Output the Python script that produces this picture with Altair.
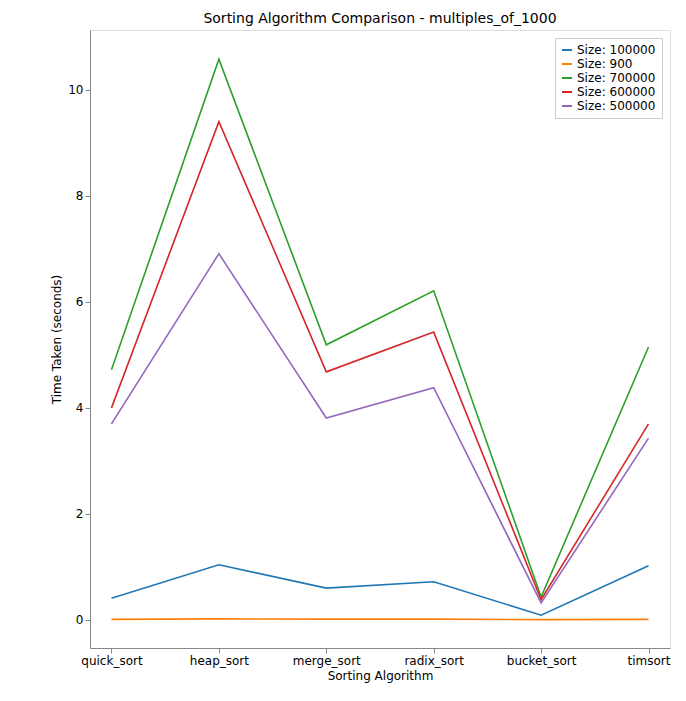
import altair as alt
import pandas as pd

algorithms = ["quick_sort", "heap_sort", "merge_sort", "radix_sort", "bucket_sort", "timsort"]
sizes = ["Size: 100000", "Size: 900", "Size: 700000", "Size: 600000", "Size: 500000"]
times = {
    "Size: 100000": [0.41, 1.04, 0.60, 0.72, 0.09, 1.02],
    "Size: 900": [0.01, 0.02, 0.015, 0.015, 0.005, 0.01],
    "Size: 700000": [4.72, 10.58, 5.19, 6.21, 0.43, 5.15],
    "Size: 600000": [4.00, 9.40, 4.68, 5.43, 0.38, 3.70],
    "Size: 500000": [3.70, 6.91, 3.81, 4.38, 0.32, 3.43],
}
colors = ["#1f77b4", "#ff7f0e", "#2ca02c", "#d62728", "#9467bd"]

rows = []
for s in sizes:
    for a, t in zip(algorithms, times[s]):
        rows.append({"algorithm": a, "size": s, "time": t})
df = pd.DataFrame(rows)

chart = alt.Chart(df).mark_line(strokeWidth=1.6).encode(
    x=alt.X("algorithm:N", sort=algorithms, title="Sorting Algorithm",
            scale=alt.Scale(type="point", padding=0.2),
            axis=alt.Axis(labelAngle=0, grid=False, labelFontSize=12, titleFontSize=12,
                          labelColor="black", titleColor="black", titleFontWeight="normal")),
    y=alt.Y("time:Q", title="Time Taken (seconds)",
            scale=alt.Scale(domain=[-0.53, 11.13], nice=False, zero=False),
            axis=alt.Axis(values=[0, 2, 4, 6, 8, 10], grid=False, labelFontSize=12, titleFontSize=12,
                          labelColor="black", titleColor="black", titleFontWeight="normal")),
    color=alt.Color("size:N", sort=sizes, scale=alt.Scale(domain=sizes, range=colors),
                    legend=alt.Legend(title=None, orient="top-right", symbolType="stroke",
                                      labelFontSize=12, strokeColor="#cccccc", padding=6,
                                      fillColor="white", symbolStrokeWidth=2, offset=8)),
).properties(
    width=580, height=618,
    title=alt.Title("Sorting Algorithm Comparison - multiples_of_1000", fontSize=14, fontWeight="normal"),
    autosize=alt.AutoSizeParams(type="none"),
    padding={"left": 82, "top": 22, "right": 8, "bottom": 45},
).configure_view(stroke="black", strokeWidth=1).configure(font="DejaVu Sans")

chart.save("out.html", embed_options={"renderer": "svg", "actions": False})
